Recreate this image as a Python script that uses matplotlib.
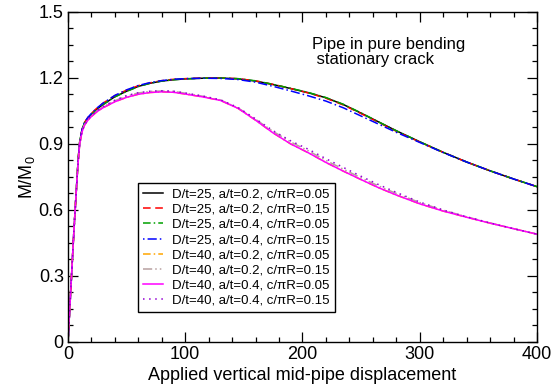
import matplotlib
matplotlib.use("Agg")
import matplotlib.pyplot as plt
from matplotlib.ticker import MultipleLocator

plt.rcParams['font.family'] = ['Liberation Sans', 'DejaVu Sans']
plt.rcParams['mathtext.fontset'] = 'custom'
plt.rcParams['mathtext.rm'] = 'Liberation Sans'
plt.rcParams['mathtext.it'] = 'Liberation Sans:italic'

# displacement values (same sampling for all curves)
disp = [0, 1, 2, 3, 4, 5, 6, 7, 8, 9, 10, 12, 14, 17, 20, 25, 30, 40, 50, 60,
        70, 80, 90, 100, 115, 130, 145, 160, 175, 190, 205, 220, 235, 250, 265,
        280, 300, 320, 340, 360, 380, 400]

# D/t=25 curves
m_25_02_005 = [0, 0.10, 0.20, 0.30, 0.40, 0.50, 0.59, 0.68, 0.77, 0.85, 0.91, 0.965,
               0.995, 1.018, 1.035, 1.060, 1.080, 1.115, 1.140, 1.162, 1.176, 1.186,
               1.192, 1.196, 1.199, 1.200, 1.196, 1.186, 1.170, 1.152, 1.133, 1.110,
               1.079, 1.040, 1.000, 0.960, 0.910, 0.862, 0.818, 0.778, 0.741, 0.706]
m_25_02_015 = [0, 0.10, 0.20, 0.30, 0.40, 0.50, 0.59, 0.68, 0.77, 0.85, 0.91, 0.966,
               0.997, 1.021, 1.039, 1.065, 1.086, 1.120, 1.145, 1.165, 1.178, 1.188,
               1.194, 1.197, 1.200, 1.200, 1.197, 1.187, 1.171, 1.152, 1.132, 1.108,
               1.077, 1.038, 0.998, 0.958, 0.909, 0.862, 0.818, 0.778, 0.741, 0.706]
m_25_04_005 = [0, 0.10, 0.20, 0.30, 0.40, 0.50, 0.59, 0.68, 0.77, 0.85, 0.91, 0.964,
               0.994, 1.017, 1.034, 1.059, 1.079, 1.114, 1.139, 1.161, 1.176, 1.186,
               1.192, 1.196, 1.199, 1.200, 1.197, 1.187, 1.171, 1.153, 1.134, 1.111,
               1.080, 1.041, 1.000, 0.960, 0.910, 0.862, 0.818, 0.778, 0.741, 0.706]
m_25_04_015 = [0, 0.10, 0.20, 0.30, 0.40, 0.50, 0.59, 0.68, 0.77, 0.85, 0.91, 0.966,
               0.997, 1.021, 1.039, 1.065, 1.086, 1.121, 1.146, 1.166, 1.179, 1.188,
               1.194, 1.197, 1.199, 1.198, 1.193, 1.181, 1.162, 1.141, 1.119, 1.095,
               1.064, 1.027, 0.990, 0.953, 0.907, 0.861, 0.818, 0.778, 0.741, 0.706]

# D/t=40 curves
m_40_02_005 = [0, 0.10, 0.20, 0.30, 0.40, 0.50, 0.59, 0.68, 0.765, 0.84, 0.90, 0.955,
               0.985, 1.008, 1.025, 1.048, 1.065, 1.092, 1.112, 1.126, 1.134, 1.137,
               1.135, 1.127, 1.114, 1.098, 1.062, 1.008, 0.950, 0.900, 0.860, 0.816,
               0.776, 0.738, 0.701, 0.668, 0.628, 0.595, 0.567, 0.540, 0.515, 0.490]
m_40_02_015 = [0, 0.10, 0.20, 0.30, 0.40, 0.50, 0.59, 0.68, 0.765, 0.84, 0.90, 0.956,
               0.986, 1.010, 1.027, 1.051, 1.069, 1.097, 1.118, 1.132, 1.139, 1.141,
               1.139, 1.131, 1.117, 1.100, 1.064, 1.012, 0.957, 0.909, 0.869, 0.825,
               0.785, 0.746, 0.709, 0.675, 0.634, 0.599, 0.569, 0.541, 0.515, 0.490]
m_40_04_005 = [0, 0.10, 0.20, 0.30, 0.40, 0.50, 0.59, 0.68, 0.765, 0.84, 0.90, 0.955,
               0.985, 1.008, 1.025, 1.048, 1.065, 1.092, 1.112, 1.126, 1.134, 1.137,
               1.135, 1.127, 1.114, 1.098, 1.062, 1.008, 0.950, 0.900, 0.860, 0.816,
               0.776, 0.738, 0.701, 0.668, 0.628, 0.595, 0.567, 0.540, 0.515, 0.490]
m_40_04_015 = [0, 0.10, 0.20, 0.30, 0.40, 0.50, 0.59, 0.68, 0.765, 0.84, 0.90, 0.956,
               0.987, 1.011, 1.029, 1.053, 1.071, 1.099, 1.120, 1.133, 1.140, 1.142,
               1.140, 1.132, 1.118, 1.101, 1.066, 1.014, 0.960, 0.914, 0.876, 0.833,
               0.793, 0.753, 0.715, 0.680, 0.636, 0.600, 0.569, 0.541, 0.515, 0.490]

labels = [
    "D/t=25, a/t=0.2, c/\u03c0R=0.05",
    "D/t=25, a/t=0.2, c/\u03c0R=0.15",
    "D/t=25, a/t=0.4, c/\u03c0R=0.05",
    "D/t=25, a/t=0.4, c/\u03c0R=0.15",
    "D/t=40, a/t=0.2, c/\u03c0R=0.05",
    "D/t=40, a/t=0.2, c/\u03c0R=0.15",
    "D/t=40, a/t=0.4, c/\u03c0R=0.05",
    "D/t=40, a/t=0.4, c/\u03c0R=0.15",
]
series = [m_25_02_005, m_25_02_015, m_25_04_005, m_25_04_015,
          m_40_02_005, m_40_02_015, m_40_04_005, m_40_04_015]
colors = ['black', '#ff0000', '#00a000', '#0000ff',
          '#ffa500', '#b8a0a0', '#ff00ff', '#9400d3']
dashes = [None, (5, 3), (5, 2, 1, 2), (1, 2, 6, 2),
          (5, 2, 1, 2), (6, 2, 1, 2, 1, 2), None, (1, 3)]

fig = plt.figure(figsize=(5.51, 3.88), dpi=100)
ax = fig.add_axes([0.1234, 0.1186, 0.8512, 0.8505])

for y, lab, c, d in zip(series, labels, colors, dashes):
    line, = ax.plot(disp, y, color=c, lw=1.1, label=lab)
    if d is not None:
        line.set_dashes(d)

ax.set_xlim(0, 400)
ax.set_ylim(0, 1.5)
ax.xaxis.set_major_locator(MultipleLocator(100))
ax.xaxis.set_minor_locator(MultipleLocator(20))
ax.yaxis.set_minor_locator(MultipleLocator(0.075))
ax.set_yticks([0, 0.3, 0.6, 0.9, 1.2, 1.5])
ax.set_yticklabels(["0", "0.3", "0.6", "0.9", "1.2", "1.5"])
ax.tick_params(which='both', direction='in', top=True, right=True, width=0.9,
               labelsize=13)
ax.tick_params(which='major', length=7, pad=3)
ax.tick_params(which='minor', length=3.5)
for s in ax.spines.values():
    s.set_linewidth(1.0)

ax.set_xlabel("Applied vertical mid-pipe displacement", fontsize=13, labelpad=2.5)
ax.set_ylabel(r"M/M$_0$", fontsize=13, labelpad=1)

ax.text(208, 1.385, "Pipe in pure bending\n stationary crack", fontsize=12,
        ha='left', va='top', linespacing=1.0)

leg = ax.legend(loc='lower left', bbox_to_anchor=(0.149, 0.091), borderaxespad=0,
                fontsize=9.5, handlelength=1.5, handletextpad=0.7,
                labelspacing=0.22, borderpad=0.4, fancybox=False, framealpha=1)
leg.get_frame().set_edgecolor('black')
leg.get_frame().set_linewidth(1.0)

fig.savefig("out.png", dpi=100)
